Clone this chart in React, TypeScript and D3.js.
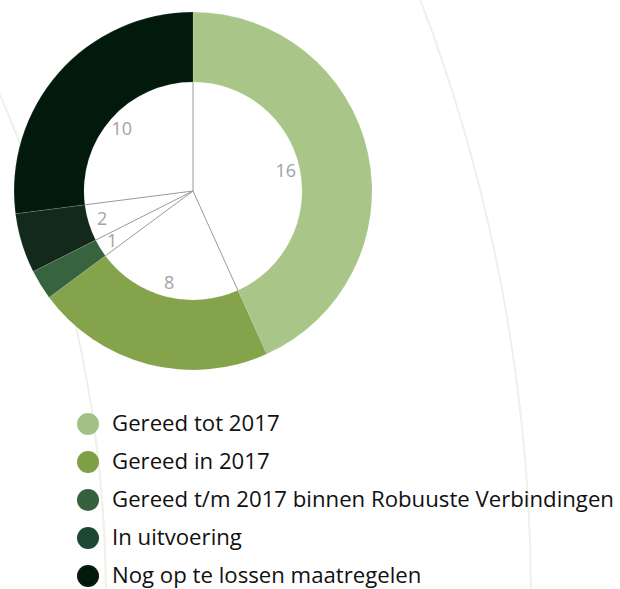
import React, {useEffect, useRef} from 'react';
import * as d3 from 'd3';

// data
const categories = [
  'Gereed tot 2017',
  'Gereed in 2017',
  'Gereed t/m 2017 binnen Robuuste Verbindingen',
  'In uitvoering',
  'Nog op te lossen maatregelen',
];
const values = [16, 8, 1, 2, 10];
const sliceColors = ['#a9c688', '#84a34a', '#37643f', '#13291b', '#021a0b'];
const legendColors = ['#a3c085', '#80a048', '#37603d', '#1d4633', '#021a0b'];

const W = 620;
const H = 589;

export default function App() {
  const svgRef = useRef<SVGSVGElement>(null);

  useEffect(() => {
    const svg = d3.select(svgRef.current);
    svg.selectAll('*').remove();

    // faint decorative arcs in the background
    const bg = svg.append('g');
    [1256, 1681].forEach(r => {
      bg.append('circle')
        .attr('cx', -1150).attr('cy', 600).attr('r', r)
        .attr('fill', 'none')
        .attr('stroke', '#eef1e5')
        .attr('stroke-width', 2);
    });

    const cx = 193, cy = 191;
    const inner = 109, outer = 179;
    const pie = d3.pie<number>().sort(null).value(d => d);
    const arcs = pie(values);
    const arc = d3.arc<d3.PieArcDatum<number>>().innerRadius(inner).outerRadius(outer);

    const g = svg.append('g').attr('transform', `translate(${cx},${cy})`);
    g.selectAll('path.slice')
      .data(arcs)
      .join('path')
      .attr('class', 'slice')
      .attr('d', arc)
      .attr('fill', (d, i) => sliceColors[i])
      .attr('stroke', 'rgba(255,255,255,0.25)')
      .attr('stroke-width', 0.5);

    // thin grey spokes from the centre to the hole edge
    g.selectAll('line.spoke')
      .data(arcs)
      .join('line')
      .attr('class', 'spoke')
      .attr('x1', 0).attr('y1', 0)
      .attr('x2', d => inner * Math.sin(d.startAngle))
      .attr('y2', d => -inner * Math.cos(d.startAngle))
      .attr('stroke', '#9a9a9a')
      .attr('stroke-width', 1);

    const lr = 95;
    g.selectAll('text.lbl')
      .data(arcs)
      .join('text')
      .attr('class', 'lbl')
      .attr('x', d => lr * Math.sin((d.startAngle + d.endAngle) / 2))
      .attr('y', d => -lr * Math.cos((d.startAngle + d.endAngle) / 2))
      .attr('dy', '0.35em')
      .attr('text-anchor', 'middle')
      .attr('font-family', '"Open Sans", sans-serif')
      .attr('font-size', 18)
      .attr('fill', '#a3a3a3')
      .text(d => d.data);

    // legend
    const ly = d3.scaleBand<number>().domain(categories.map((c, i) => i)).range([405, 595]);
    const leg = svg.append('g');
    const item = leg.selectAll('g.item')
      .data(categories)
      .join('g')
      .attr('class', 'item')
      .attr('transform', (d, i) => `translate(0,${ly(i)! + ly.bandwidth() / 2})`);
    item.append('circle')
      .attr('cx', 88).attr('cy', 0).attr('r', 11)
      .attr('fill', (d, i) => legendColors[i]);
    item.append('text')
      .attr('x', 112).attr('y', 0).attr('dy', '0.31em')
      .attr('font-family', '"Open Sans", sans-serif')
      .attr('font-size', 22.2)
      .attr('fill', '#111')
      .text(d => d);
  }, []);

  return (
    <svg ref={svgRef} width={W} height={H}
      style={{position: 'absolute', left: 0, top: 0, background: '#fff'}} />
  );
}
